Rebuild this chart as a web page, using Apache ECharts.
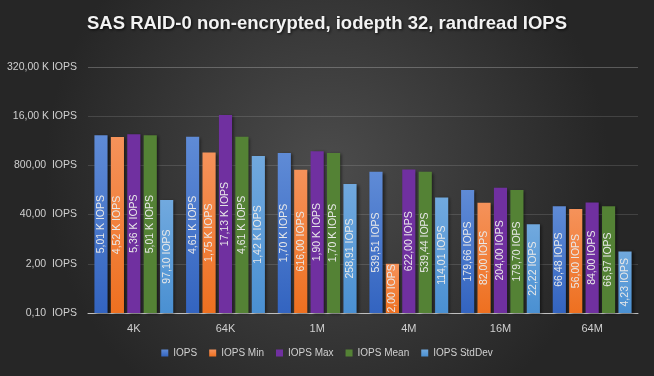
<!DOCTYPE html>
<html>
<head>
<meta charset="utf-8">
<script src="https://cdn.jsdelivr.net/npm/echarts@6/dist/echarts.min.js"></script>
<style>
  html, body { margin: 0; padding: 0; }
  #chart { width: 654px; height: 376px; }
</style>
</head>
<body>
<div id="chart"></div>
<script>
// block sizes
var categories = ['4K', '64K', '1M', '4M', '16M', '64M']
// values in IOPS
var iops = [5010, 4610, 1700, 539.51, 179.66, 66.48]
var iopsMin = [4520, 1750, 616, 2.00, 82.00, 56.00]
var iopsMax = [5360, 17130, 1900, 622.00, 204.00, 84.00]
var iopsMean = [5010, 4610, 1700, 539.44, 179.70, 66.97]
var iopsStdDev = [97.10, 1420, 258.91, 114.01, 22.22, 4.23]
// y axis runs 0,10 .. 320,00 K in steps of x20
var axisMin = 0.1
var axisMax = 320000

// the log axis counts ticks from powers of 20, so feed it tenths of an IOPS
var SCALE = 10

function fmtIops (v, pad) {
  if (v >= 1000) return (v / 1000).toFixed(2).replace('.', ',') + ' K IOPS'
  return v.toFixed(2).replace('.', ',') + (pad ? '  IOPS' : ' IOPS')
}

function grad (top, bottom) {
  return new echarts.graphic.LinearGradient(0, 0, 0, 1, [
    { offset: 0, color: top },
    { offset: 1, color: bottom }
  ])
}

function makeSeries (name, values, color) {
  return {
    name: name,
    type: 'bar',
    barGap: '25%',
    barCategoryGap: '14%',
    data: values.map(function (v) { return v * SCALE }),
    itemStyle: {
      color: color,
      shadowBlur: 3,
      shadowOffsetX: 2,
      shadowOffsetY: 1,
      shadowColor: 'rgba(0,0,0,0.5)'
    },
    label: {
      show: true,
      position: 'inside',
      rotate: 90,
      color: '#e8e8e8',
      fontSize: 10.5,
      fontFamily: 'Liberation Sans',
      formatter: function (p) { return fmtIops(p.value / SCALE, false) }
    }
  }
}

var myChart = echarts.init(document.getElementById('chart'))
var option = {
  backgroundColor: new echarts.graphic.RadialGradient(0.5, 0.45, 0.75, [
    { offset: 0, color: '#4c4c4c' },
    { offset: 1, color: '#262626' }
  ]),
  title: {
    text: 'SAS RAID-0 non-encrypted, iodepth 32, randread IOPS',
    left: 'center',
    top: 9,
    textStyle: {
      color: '#f2f2f2',
      fontSize: 18.5,
      fontWeight: 'bold',
      fontFamily: 'Liberation Sans',
      textShadowColor: 'rgba(0,0,0,0.8)',
      textShadowBlur: 3,
      textShadowOffsetX: 1,
      textShadowOffsetY: 1
    }
  },
  legend: {
    bottom: 13,
    left: 'center',
    itemWidth: 7,
    itemHeight: 7,
    itemGap: 12,
    icon: 'rect',
    textStyle: { color: '#d0d0d0', fontSize: 10, fontFamily: 'Liberation Sans' }
  },
  grid: {
    left: 88,
    right: 16,
    top: 67,
    bottom: 63
  },
  xAxis: {
    type: 'category',
    data: categories,
    axisLine: { lineStyle: { color: '#bfbfbf', width: 1 } },
    axisTick: { show: false },
    axisLabel: { color: '#cfcfcf', fontSize: 11, margin: 10, fontFamily: 'Liberation Sans' }
  },
  yAxis: {
    type: 'log',
    logBase: 20,
    min: axisMin * SCALE,
    max: axisMax * SCALE,
    axisLine: { show: false },
    axisTick: { show: false },
    splitLine: { lineStyle: { color: 'rgba(255,255,255,0.13)' } },
    axisLabel: {
      color: '#cfcfcf',
      fontSize: 10.5,
      margin: 11,
      fontFamily: 'Liberation Sans',
      formatter: function (v) { return fmtIops(v / SCALE, true) }
    }
  },
  series: [
    makeSeries('IOPS', iops, grad('#5f8bd6', '#3364c0')),
    makeSeries('IOPS Min', iopsMin, grad('#f5925a', '#ee7020')),
    makeSeries('IOPS Max', iopsMax, '#7030a0'),
    makeSeries('IOPS Mean', iopsMean, '#548235'),
    makeSeries('IOPS StdDev', iopsStdDev, grad('#71a9de', '#4a90d2'))
  ]
}
myChart.setOption(option)
</script>
</body>
</html>
